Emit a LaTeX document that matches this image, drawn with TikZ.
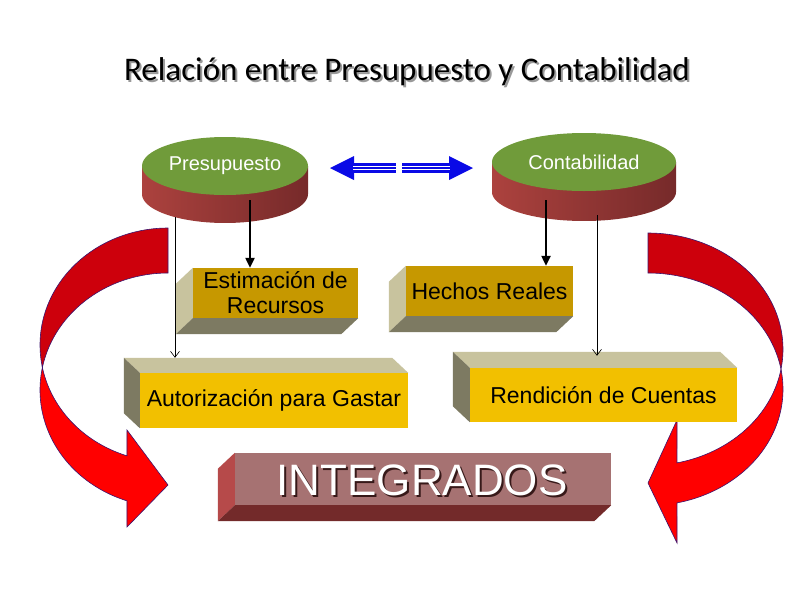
\documentclass[tikz,border=0pt]{standalone}
\usepackage{fontspec}
\setmainfont{Liberation Sans}
\newfontfamily\titlefont{Carlito}
\usetikzlibrary{arrows.meta,shapes.geometric,calc}
\definecolor{cylgreen}{RGB}{112,155,58}
\definecolor{cylredL}{RGB}{172,66,62}
\definecolor{cylredR}{RGB}{118,42,42}
\definecolor{goldD}{RGB}{198,152,0}
\definecolor{goldB}{RGB}{242,192,0}
\definecolor{beige}{RGB}{200,195,158}
\definecolor{olivegray}{RGB}{125,122,98}
\definecolor{mauve}{RGB}{166,114,114}
\definecolor{redface}{RGB}{182,74,74}
\definecolor{maroon}{RGB}{115,42,42}
\definecolor{arrowdark}{RGB}{205,0,12}
\definecolor{arrowlight}{RGB}{255,0,0}
\definecolor{arrowline}{RGB}{60,20,110}
\definecolor{dblue}{RGB}{10,10,230}
\begin{document}
\begin{tikzpicture}[x=1pt,y=-1pt,
  front/.style={draw=none, inner sep=0pt, align=center, text=black,
    font=\fontsize{23}{25}\selectfont},
  cylnode/.style={ellipse, fill=cylgreen, inner sep=0pt, text=white,
    font=\fontsize{20}{22}\selectfont},
  blkthick/.style={line width=2.2pt, -{Triangle[length=10pt,width=9pt]}},
  blkthin/.style={line width=0.6pt, -{Straight Barb[length=6pt,width=9pt]}},
  bigarrow/.style={draw=arrowline, line width=0.6pt},
  shaft/.style={fill=dblue},
  stripe/.style={draw=white, line width=1.2pt}]
\useasboundingbox (0,0) rectangle (800,600);
\fill[white] (0,0) rectangle (800,600);

% title
\node[font=\titlefont\fontsize{33}{38}\selectfont, text=black!40] at (409,74) {Relación entre Presupuesto y Contabilidad};
\node[font=\titlefont\fontsize{33}{38}\selectfont] (title) at (407,72) {Relación entre Presupuesto y Contabilidad};

% left curved arrow
\path[bigarrow, fill=arrowdark]
  plot[domain=90:190.8, samples=60] ({168+128*cos(\x)},{345-117*sin(\x)})
  -- plot[domain=168.7:90, samples=60] ({168+128*cos(\x)},{390-117*sin(\x)}) -- cycle;
\path[bigarrow, fill=arrowlight]
  plot[domain=168.7:251.3, samples=60] ({168+128*cos(\x)},{390-117*sin(\x)})
  -- (127,527) -- (168,485) -- (127,430)
  -- plot[domain=251.3:190.8, samples=60] ({168+128*cos(\x)},{345-117*sin(\x)}) -- cycle;

% right curved arrow
\path[bigarrow, fill=arrowdark]
  plot[domain=90:-9.9, samples=60] ({648+135*cos(\x)},{349.3-116.3*sin(\x)})
  -- plot[domain=9.9:90, samples=60] ({648+135*cos(\x)},{389.3-116.3*sin(\x)}) -- cycle;
\path[bigarrow, fill=arrowlight]
  plot[domain=9.9:-77.6, samples=60] ({648+135*cos(\x)},{389.3-116.3*sin(\x)})
  -- (677,543) -- (648,483) -- (677,420)
  -- plot[domain=-77.6:-9.9, samples=60] ({648+135*cos(\x)},{349.3-116.3*sin(\x)}) -- cycle;

% cylinders
\path[left color=cylredL, right color=cylredR]
  (142,166) -- (142,194) -- plot[domain=180:360, samples=50] ({225+83*cos(\x)},{194-29*sin(\x)}) -- (308,166) -- cycle;
\node[cylnode, minimum width=166pt, minimum height=58pt] (pres) at (225,166) {Presupuesto};
\path[left color=cylredL, right color=cylredR]
  (492,162) -- (492,192) -- plot[domain=180:360, samples=50] ({584+92*cos(\x)},{192-29*sin(\x)}) -- (676,162) -- cycle;
\node[cylnode, minimum width=184pt, minimum height=58pt] (cont) at (584,162) {Contabilidad};

% blue double arrow
\coordinate (bl) at (330,168);
\coordinate (bm1) at (396,168);
\coordinate (bm2) at (402,168);
\coordinate (br) at (473,168);
\fill[dblue] (bl) -- ++(24,-12) -- ++(0,24) -- cycle;
\fill[shaft] ($(bl)+(23,-5)$) rectangle ($(bm1)+(0,5)$);
\draw[stripe] ($(bl)+(23,-1.7)$) -- ($(bm1)+(0,-1.7)$);
\draw[stripe] ($(bl)+(23,1.7)$) -- ($(bm1)+(0,1.7)$);
\fill[dblue] (br) -- ++(-24,-12) -- ++(0,24) -- cycle;
\fill[shaft] ($(bm2)+(0,-5)$) rectangle ($(br)+(-23,5)$);
\draw[stripe] ($(bm2)+(0,-1.7)$) -- ($(br)+(-23,-1.7)$);
\draw[stripe] ($(bm2)+(0,1.7)$) -- ($(br)+(-23,1.7)$);

% Estimacion box
\node[front, fill=goldD, minimum width=165pt, minimum height=50pt] (estim) at (275.5,293) {Estimación de\\Recursos};
\fill[beige] (estim.north west) -- ++(-17,16) -- ($(estim.south west)+(-17,16)$) -- (estim.south west) -- cycle;
\fill[olivegray] (estim.south west) -- (estim.south east) -- ++(-17,16) -- ($(estim.south west)+(-17,16)$) -- cycle;

% Hechos box
\node[front, fill=goldD, minimum width=167pt, minimum height=50pt] (hechos) at (489.5,291) {Hechos Reales};
\fill[beige] (hechos.north west) -- ++(-17,16) -- ($(hechos.south west)+(-17,16)$) -- (hechos.south west) -- cycle;
\fill[olivegray] (hechos.south west) -- (hechos.south east) -- ++(-17,16) -- ($(hechos.south west)+(-17,16)$) -- cycle;

% Autorizacion box
\node[front, fill=goldB, minimum width=268pt, minimum height=55pt] (autor) at (274,400.5) {Autorización para Gastar};
\fill[beige] (autor.north west) -- (autor.north east) -- ++(-16,-15) -- ($(autor.north west)+(-16,-15)$) -- cycle;
\fill[olivegray] (autor.north west) -- ($(autor.north west)+(-16,-15)$) -- ($(autor.south west)+(-16,-15)$) -- (autor.south west) -- cycle;
\coordinate (autorback) at ($(autor.north west)+(-16,-15)$);

% Rendicion box
\node[front, fill=goldB, minimum width=267pt, minimum height=54pt] (rend) at (603.5,395) {Rendición de Cuentas};
\fill[beige] (rend.north west) -- (rend.north east) -- ++(-17,-16) -- ($(rend.north west)+(-17,-16)$) -- cycle;
\fill[olivegray] (rend.north west) -- ($(rend.north west)+(-17,-16)$) -- ($(rend.south west)+(-17,-16)$) -- (rend.south west) -- cycle;
\coordinate (rendback) at ($(rend.north west)+(-17,-12)$);

% INTEGRADOS box
\node[front, fill=mauve, minimum width=376pt, minimum height=52pt] (integ) at (423,479) {};
\fill[redface] (integ.north west) -- ++(-17,16) -- ($(integ.south west)+(-17,16)$) -- (integ.south west) -- cycle;
\fill[maroon] (integ.south west) -- (integ.south east) -- ++(-17,16) -- ($(integ.south west)+(-17,16)$) -- cycle;
\node[font=\fontsize{44}{48}\selectfont, text={rgb,255:red,55;green,25;blue,25}] at ($(integ.center)+(1,3)$) {INTEGRADOS};
\node[font=\fontsize{44}{48}\selectfont, text=white] (integtext) at ($(integ.center)+(-1,1)$) {INTEGRADOS};

% connectors
\coordinate (pa) at (250,200);
\coordinate (ca) at (546,200);
\coordinate (pb) at (175,217);
\coordinate (cb) at (597,215);
\draw[blkthick] (pa) -- (pa |- estim.north);
\draw[blkthick] (ca) -- (ca |- hechos.north);
\draw[blkthin] (pb) -- (pb |- autorback);
\draw[blkthin] (cb) -- (cb |- rendback);
\end{tikzpicture}
\end{document}
